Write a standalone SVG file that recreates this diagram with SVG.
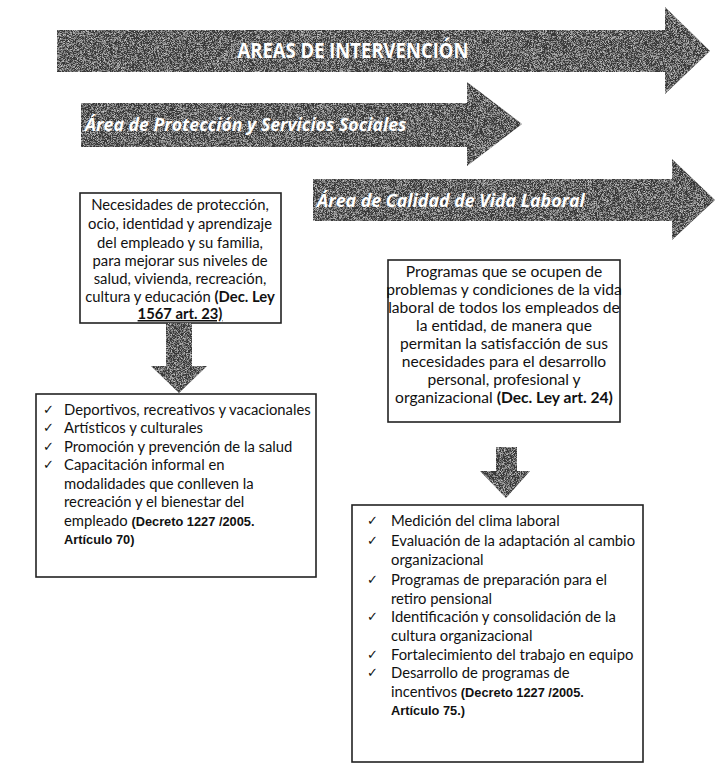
<svg xmlns="http://www.w3.org/2000/svg" width="719" height="775" viewBox="0 0 719 775">
<defs>
<filter id="grain" x="0" y="0" width="100%" height="100%">
<feTurbulence type="fractalNoise" baseFrequency="1.7" numOctaves="2" seed="5" result="n"/>
<feColorMatrix in="n" type="matrix" values="0 0 0 0 0.7  0 0 0 0 0.7  0 0 0 0 0.7  0 0 0 2.2 -0.95" result="spots"/>
<feComposite in="spots" in2="SourceGraphic" operator="in" result="s2"/>
<feMerge><feMergeNode in="SourceGraphic"/><feMergeNode in="s2"/></feMerge>
</filter>
<style>
.arr{fill:#383838;filter:url(#grain);}
.box{fill:#fff;stroke:#222;stroke-width:1.6;}
.t{font-family:Lato,"Liberation Sans",sans-serif;font-size:14.8px;fill:#111;}
.c{text-anchor:middle;}
.b{font-family:"Liberation Sans",Arial,sans-serif;font-weight:bold;font-size:12.8px;}
.bc{font-weight:bold;}
.ck{font-family:"DejaVu Sans",sans-serif;font-size:13px;fill:#111;}
.h{font-family:"Open Sans","Liberation Sans",sans-serif;font-weight:bold;fill:#fff;}
.p3{font-size:15.6px;}
</style>
</defs>
<rect width="719" height="775" fill="#fff"/>

<g id="areas-intervencion">
<path class="arr" d="M57,30 H665 V7 L710,51 L665,94 V72 H57 Z"/>
<text class="h" transform="translate(353,58) scale(0.9,1)" font-size="20.5" text-anchor="middle">AREAS DE INTERVENCIÓN</text>
</g>

<g id="area-proteccion">
<path class="arr" d="M81,103 H467 V82 L522,124 L467,166 V147 H81 Z"/>
<text class="h" x="85" y="131" font-size="17.7" font-style="italic">Área de Protección y Servicios Sociales</text>
</g>

<g id="area-calidad">
<path class="arr" d="M313,179 H672 V159 L715,200 L672,240 V221 H313 Z"/>
<text class="h" x="317" y="207" font-size="17.8" font-style="italic">Área de Calidad de Vida Laboral</text>
</g>

<g id="necesidades">
<rect class="box" x="80" y="193" width="201" height="130"/>
<text class="t c" x="180" y="210">Necesidades de protección,</text>
<text class="t c" x="180" y="229">ocio, identidad y aprendizaje</text>
<text class="t c" x="180" y="248" font-size="17">del empleado y su familia,</text>
<text class="t c" x="180" y="266">para mejorar sus niveles de</text>
<text class="t c" x="180" y="284">salud, vivienda, recreación,</text>
<text class="t c" x="180" y="302">cultura y educación <tspan class="bc">(Dec. Ley</tspan></text>
<text class="t c bc" x="180" y="319" text-decoration="underline">1567 art. 23)</text>
</g>

<g id="programas">
<rect class="box" x="388" y="260" width="232" height="162"/>
<text class="t c p3" x="504" y="277">Programas que se ocupen de</text>
<text class="t c p3" x="504" y="295">problemas y condiciones de la vida</text>
<text class="t c p3" x="504" y="313">laboral de todos los empleados de</text>
<text class="t c p3" x="504" y="331">la entidad, de manera que</text>
<text class="t c p3" x="504" y="349">permitan la satisfacción de sus</text>
<text class="t c p3" x="504" y="367">necesidades para el desarrollo</text>
<text class="t c p3" x="504" y="385">personal, profesional y</text>
<text class="t c p3" x="504" y="403">organizacional <tspan class="bc">(Dec. Ley art. 24)</tspan></text>
</g>

<g id="lista-proteccion">
<rect class="box" x="36" y="394" width="280" height="183"/>
<text class="ck" x="43" y="414">✓</text>
<text class="ck" x="43" y="432">✓</text>
<text class="ck" x="43" y="451">✓</text>
<text class="ck" x="43" y="469">✓</text>
<text class="t" x="64" y="415">Deportivos, recreativos y vacacionales</text>
<text class="t" x="64" y="433">Artísticos y culturales</text>
<text class="t" x="64" y="452">Promoción y prevención de la salud</text>
<text class="t" x="64" y="470">Capacitación informal en</text>
<text class="t" x="64" y="489">modalidades que conlleven la</text>
<text class="t" x="64" y="507">recreación y el bienestar del</text>
<text class="t" x="64" y="526">empleado <tspan class="b">(Decreto 1227 /2005.</tspan></text>
<text class="t b" x="64" y="544">Artículo  70)</text>
</g>

<g id="lista-calidad">
<rect class="box" x="352" y="505" width="291" height="257"/>
<text class="ck" x="367" y="525">✓</text>
<text class="ck" x="367" y="545">✓</text>
<text class="ck" x="367" y="584">✓</text>
<text class="ck" x="367" y="621">✓</text>
<text class="ck" x="367" y="659">✓</text>
<text class="ck" x="367" y="677">✓</text>
<text class="t" x="391" y="526">Medición del clima laboral</text>
<text class="t" x="391" y="546">Evaluación de la adaptación al cambio</text>
<text class="t" x="391" y="565">organizacional</text>
<text class="t" x="391" y="585">Programas de preparación para el</text>
<text class="t" x="391" y="604">retiro pensional</text>
<text class="t" x="391" y="622">Identificación y consolidación de la</text>
<text class="t" x="391" y="641">cultura organizacional</text>
<text class="t" x="391" y="660">Fortalecimiento del trabajo en equipo</text>
<text class="t" x="391" y="678">Desarrollo de programas de</text>
<text class="t" x="391" y="697">incentivos <tspan class="b">(Decreto 1227 /2005.</tspan></text>
<text class="t b" x="391" y="715">Artículo 75.)</text>
</g>

<g id="connectors">
<path class="arr" d="M166,323 H192 V366 H207 L179,393 L151,366 H166 Z"/>
<path class="arr" d="M496,447 H517 V471 H530 L506,498 L480,471 H496 Z"/>
</g>
</svg>
